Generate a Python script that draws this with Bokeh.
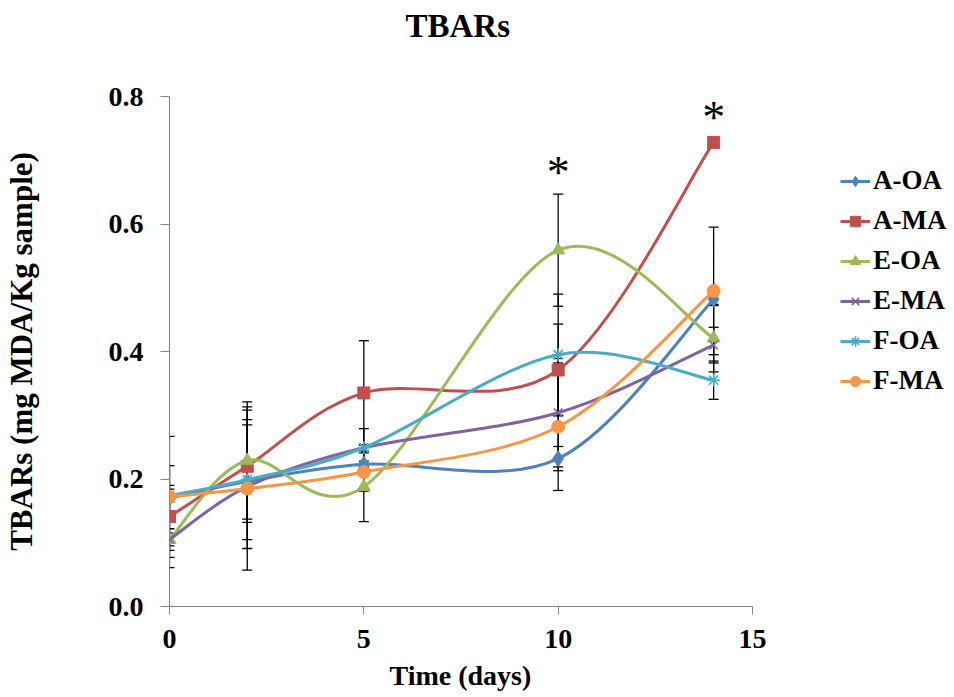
import numpy as np
from bokeh.plotting import figure
from bokeh.models import (ColumnDataSource, Whisker, TeeHead, Legend, LegendItem,
                          Label, FixedTicker, PrintfTickFormatter, Title)
from bokeh.embed import file_html
from bokeh.resources import INLINE

# ---------------- data ----------------
days = [0, 2, 5, 10, 14]
series_names = ["A-OA", "A-MA", "E-OA", "E-MA", "F-OA", "F-MA"]

a_oa = [0.170, 0.196, 0.223, 0.232, 0.482]
a_ma = [0.141, 0.220, 0.335, 0.371, 0.728]
e_oa = [0.105, 0.229, 0.188, 0.559, 0.421]
e_ma = [0.105, 0.188, 0.249, 0.304, 0.410]
f_oa = [0.174, 0.199, 0.249, 0.395, 0.355]
f_ma = [0.172, 0.185, 0.211, 0.282, 0.495]

a_oa_err = [0.020, 0.017, 0.005, 0.019, 0.010]
a_ma_err = [0.080, 0.088, 0.082, 0.072, 0.005]
e_oa_err = [0.017, 0.092, 0.055, 0.088, 0.053]
e_ma_err = [0.010, 0.097, 0.005, 0.085, 0.028]
f_oa_err = [0.010, 0.094, 0.030, 0.095, 0.030]
f_ma_err = [0.095, 0.128, 0.030, 0.100, 0.100]

star_days = [10, 14]          # significance marks
x_ticks = [0, 5, 10, 15]
y_ticks = [0.0, 0.2, 0.4, 0.6, 0.8]

values = [a_oa, a_ma, e_oa, e_ma, f_oa, f_ma]
errors = [a_oa_err, a_ma_err, e_oa_err, e_ma_err, f_oa_err, f_ma_err]
colors = ["#4F81BD", "#C0504D", "#9BBB59", "#8064A2", "#4BACC6", "#F79646"]
markers = ["diamond", "square", "triangle", "x", "asterisk", "circle"]
msizes = [16, 12, 13, 12, 13, 13]

FONT = "Liberation Serif"

# ---------------- layout (pixels) ----------------
W, H = 954, 697
AX_L, AX_R, AX_T, AX_B = 169, 752, 96, 607     # where 0..15 and 0..0.8 sit
FR_R = 954                                      # frame extends right for legend
X_MAX, Y_MAX = 15.0, 0.8
px_per_x = (AX_R - AX_L) / X_MAX
x_end = (FR_R - AX_L) / px_per_x

p = figure(width=W, height=H, output_backend="svg", toolbar_location=None,
           x_range=(0, x_end), y_range=(0, Y_MAX),
           min_border_left=AX_L, min_border_right=W - FR_R, min_border_top=AX_T,
           min_border_bottom=H - AX_B)
p.outline_line_color = None
p.xgrid.visible = False
p.ygrid.visible = False
p.background_fill_color = "white"

# axes
for ax in (p.xaxis[0], p.yaxis[0]):
    ax.axis_line_color = "#868686"
    ax.axis_line_width = 1
    ax.major_tick_line_color = "#868686"
    ax.major_tick_in = 0
    ax.minor_tick_line_color = None
    ax.major_label_text_font = FONT
    ax.major_label_text_font_style = "bold"
    ax.major_label_text_font_size = "28px"
    ax.major_label_text_color = "black"
    ax.axis_label_text_font = FONT
    ax.axis_label_text_font_style = "bold"
    ax.axis_label_text_color = "black"

p.xaxis.bounds = (0, X_MAX)
p.xaxis.ticker = FixedTicker(ticks=x_ticks)
p.xaxis.major_tick_out = 8
p.xaxis.major_label_standoff = 15

p.yaxis.bounds = (0, Y_MAX)
p.yaxis.ticker = FixedTicker(ticks=y_ticks)
p.yaxis.formatter = PrintfTickFormatter(format="%.1f")
p.yaxis.major_tick_out = 9
p.yaxis.major_label_standoff = 17
p.yaxis.axis_label = "TBARs (mg MDA/Kg sample)"
p.yaxis.axis_label_text_font_size = "31px"
p.yaxis.axis_label_standoff = 67

# x-axis title, centred under the 0..15 axis (not the whole frame)
p.add_layout(Title(text="Time (days)", align="left", offset=220,
                   vertical_align="bottom", standoff=14, text_font=FONT,
                   text_font_style="bold", text_font_size="28px",
                   text_color="black"), "below")

# blank spacer band just above the frame, then the chart title above it
p.add_layout(Title(text=" ", standoff=40, text_font=FONT, text_font_size="10px",
                   text_color="white"), "above")
p.add_layout(Title(text="TBARs", align="left", offset=236, vertical_align="bottom",
                   standoff=0, text_font=FONT, text_font_style="bold",
                   text_font_size="33px", text_color="black"), "above")

x = np.array(days, dtype=float)
items = []
for name, vals, errs, col, mk, ms in zip(series_names, values, errors, colors, markers, msizes):
    y = np.array(vals, dtype=float)
    e = np.array(errs, dtype=float)
    src = ColumnDataSource(dict(x=x, y=y, upper=y + e, lower=y - e))
    w = Whisker(source=src, base="x", upper="upper", lower="lower",
                line_color="black", line_width=1.3,
                upper_head=TeeHead(size=10, line_color="black", line_width=1.3),
                lower_head=TeeHead(size=10, line_color="black", line_width=1.3))
    p.add_layout(w)

    # smoothed (Catmull-Rom style) curve through the points, drawn as Bezier segments
    P = np.column_stack([x, y])
    prev = np.vstack([P[:1], P[:-2]])
    nxt2 = np.vstack([P[2:], P[-1:]])
    c1 = P[:-1] + (P[1:] - prev) / 6.0
    c2 = P[1:] - (nxt2 - P[:-1]) / 6.0
    bez = p.bezier(x0=P[:-1, 0], y0=P[:-1, 1], x1=P[1:, 0], y1=P[1:, 1],
                   cx0=c1[:, 0], cy0=c1[:, 1], cx1=c2[:, 0], cy1=c2[:, 1],
                   line_color=col, line_width=3)
    if mk in ("x", "asterisk"):
        sc = p.scatter(x="x", y="y", source=src, marker=mk, size=ms,
                       line_color=col, line_width=1.6)
    else:
        sc = p.scatter(x="x", y="y", source=src, marker=mk, size=ms,
                       fill_color=col, line_color=col, line_width=1)
    items.append(LegendItem(label=name, renderers=[bez, sc]))

legend = Legend(items=items, location=(840 - AX_L, AX_B - 397), orientation="vertical",
                label_text_font=FONT, label_text_font_style="bold",
                label_text_font_size="27px", label_text_color="black",
                glyph_width=30, glyph_height=26, label_height=26,
                label_standoff=3, spacing=9, padding=0, margin=0,
                border_line_color=None, background_fill_alpha=0)
p.add_layout(legend, "center")

# significance asterisks above the highest point/bar at those days
for d in star_days:
    i = days.index(d)
    top = max(v[i] + e[i] for v, e in zip(values, errors))
    p.add_layout(Label(x=d, y=top, text="*", text_align="center",
                       text_baseline="alphabetic", y_offset=22,
                       text_font=FONT, text_font_size="46px", text_color="black"))

open("out.html", "w").write(file_html(p, INLINE))
